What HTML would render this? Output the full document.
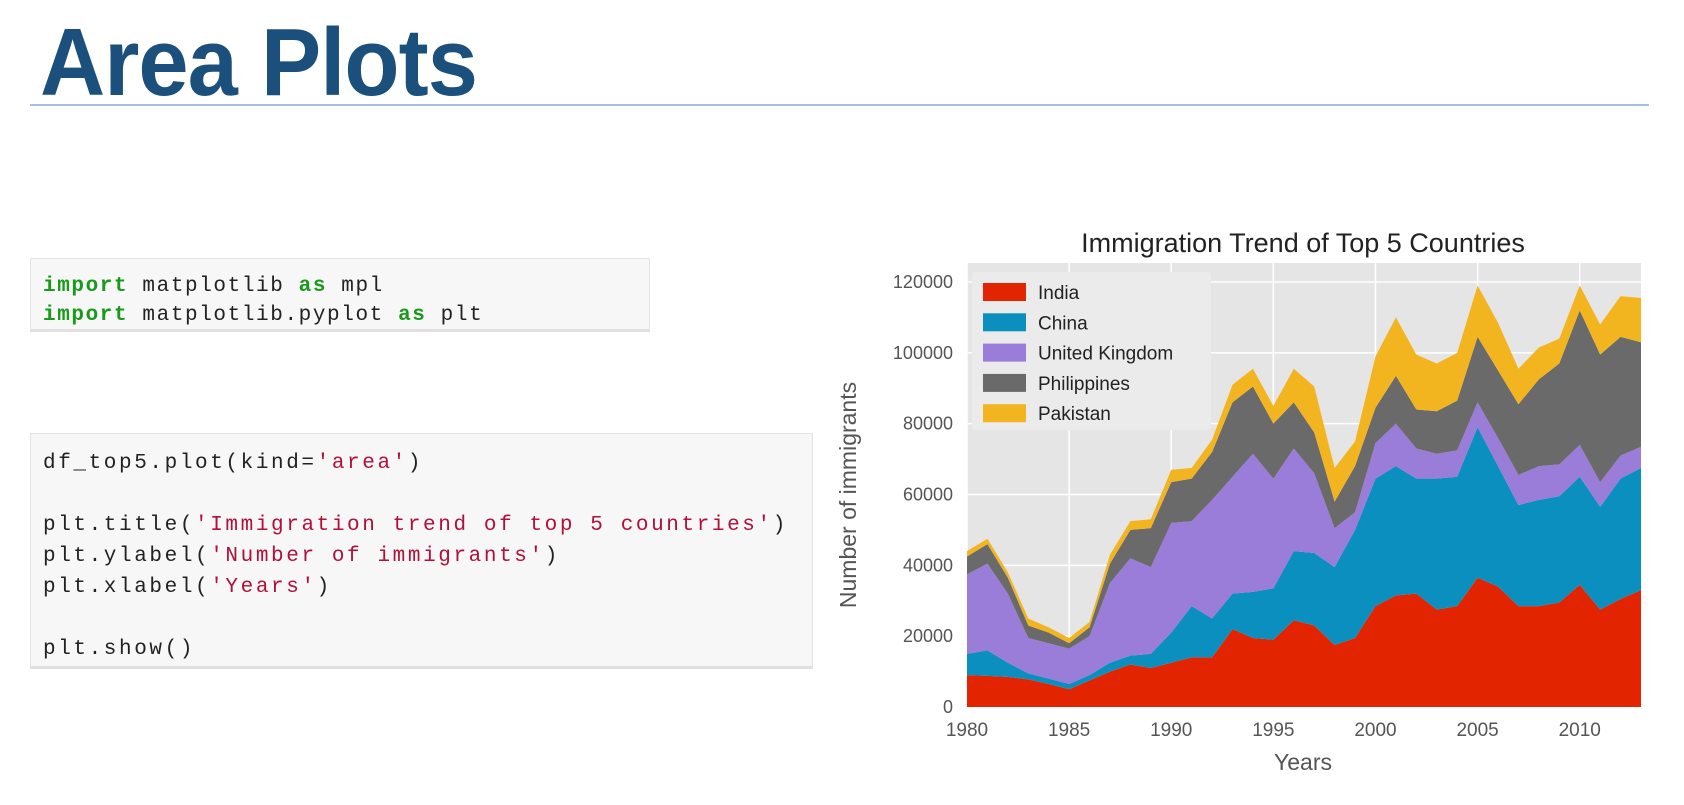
<!DOCTYPE html>
<html><head><meta charset="utf-8"><style>
body{margin:0;width:1684px;height:805px;background:#fff;position:relative;overflow:hidden;font-family:"Liberation Sans",sans-serif}
.h{position:absolute;left:40px;top:8px;font-size:96px;color:#1b4f7c;letter-spacing:-1px;font-weight:bold;transform:scaleX(0.94);transform-origin:left}
.rule{position:absolute;left:30px;top:104px;width:1619px;height:2px;background:#a9bedb}
.code{position:absolute;background:#f7f7f8;border:1px solid #e3e3e3;border-bottom:3px solid #e0e0e0;font-family:"Liberation Mono",monospace;font-size:21px;letter-spacing:2.6px;color:#222;white-space:pre;line-height:29px}
.k{color:#1a9a1a;font-weight:bold}.s{color:#b0103a}
</style></head><body>
<div class="h">Area Plots</div>
<div class="rule"></div>
<div class="code" style="left:30px;top:258px;width:620px;height:74px;padding:13px 0 0 12px;box-sizing:border-box;letter-spacing:1.6px"><span class="k">import</span> matplotlib <span class="k">as</span> mpl
<span class="k">import</span> matplotlib.pyplot <span class="k">as</span> plt</div>
<div class="code" style="left:30px;top:433px;width:783px;height:236px;padding:14px 0 0 12px;box-sizing:border-box;line-height:31px">df_top5.plot(kind=<span class="s">'area'</span>)

plt.title(<span class="s">'Immigration trend of top 5 countries'</span>)
plt.ylabel(<span class="s">'Number of immigrants'</span>)
plt.xlabel(<span class="s">'Years'</span>)

plt.show()</div>
<svg id="chart" width="1684" height="805" style="position:absolute;left:0;top:0"></svg>
<script>
const years=[1980,1981,1982,1983,1984,1985,1986,1987,1988,1989,1990,1991,1992,1993,1994,1995,1996,1997,1998,1999,2000,2001,2002,2003,2004,2005,2006,2007,2008,2009,2010,2011,2012,2013];
const india=[9000,8800,8500,7800,6500,5000,7500,10000,12000,11000,12500,14000,14000,22000,19500,19000,24500,23000,17500,19500,28500,31500,32000,27500,28500,36500,34000,28500,28500,29500,34500,27500,30500,33000];
const china=[6000,7200,4000,1700,1500,1500,1500,2500,2500,4000,8500,14500,11000,10000,13000,14500,19500,20500,22000,30500,36000,36500,32500,37000,36500,42500,34000,28500,30000,30000,30500,29000,34000,34500];
const uk=[22500,24500,19500,10000,10000,10000,11000,22500,27500,24500,31000,24000,33500,33000,39000,31000,29000,22500,11000,5000,10000,12000,8500,7000,7500,7000,8000,8500,9500,9000,9000,7000,6500,6000];
const philippines=[5000,5500,4500,3500,3000,1500,2500,5500,8000,11000,11500,12000,13500,21000,19000,15500,13000,11500,7500,13000,10000,13500,11000,12000,14000,18500,19000,20000,24500,28500,38000,36000,33500,29500];
const pakistan=[1500,1500,1500,2000,1500,1500,1500,2500,2500,2500,3500,3000,3500,5000,5000,5000,9500,13000,9500,7000,14500,16500,15500,13500,13500,14500,13500,10000,9000,7000,7000,8500,11500,12500];
const seriesNames=['India','China','United Kingdom','Philippines','Pakistan'];
const yTicks=[0,20000,40000,60000,80000,100000,120000];
const xTicks=[1980,1985,1990,1995,2000,2005,2010];
const colors=['#e22400','#0a8fbf','#9a7cd9','#6a6a6a','#f2b520'];
const series=[india,china,uk,philippines,pakistan];
const L=967,R=1641,T=263,B=707;
const x=v=>L+(v-years[0])/(years[years.length-1]-years[0])*(R-L);
const y=v=>B-v/120000*(B-282);
const svg=document.getElementById('chart');const NS='http://www.w3.org/2000/svg';
function mk(t,a,p){const e=document.createElementNS(NS,t);for(const k in a)e.setAttribute(k,a[k]);(p||svg).appendChild(e);return e;}
const bg=mk('rect',{x:L,y:T,width:R-L,height:B-T,fill:'#e5e5e5'});


yTicks.forEach(v=>{const g=mk('line',{x1:L,x2:R,y1:y(v),y2:y(v),stroke:'#fff','stroke-width':1.5});


const t=mk('text',{x:L-14,y:y(v)+6,'text-anchor':'end','font-size':18,fill:'#555','font-family':'Liberation Sans Narrow, Liberation Sans, sans-serif'});t.textContent=v;

});
xTicks.forEach(v=>{const g=mk('line',{x1:x(v),x2:x(v),y1:T,y2:B,stroke:'#fff','stroke-width':1.5});


const t=mk('text',{x:x(v),y:736,'text-anchor':'middle','font-size':19,fill:'#555','font-family':'Liberation Sans Narrow, Liberation Sans, sans-serif'});t.textContent=v;

});
let base=years.map(()=>0);
series.forEach((s,i)=>{const top=base.map((b,j)=>b+s[j]);
let d='M'+years.map((yr,j)=>x(yr)+','+y(top[j])).join('L');
for(let j=years.length-1;j>=0;j--)d+='L'+x(years[j])+','+y(base[j]);
const p=mk('path',{d:d+'Z',fill:colors[i]});


base=top;});
const lg=mk('rect',{x:972,y:272,width:239,height:158,fill:'#ebebeb',rx:3});


seriesNames.forEach((n,i)=>{const yy=292+i*30.3;
const r=mk('rect',{x:983,y:yy-9,width:43,height:18,fill:colors[i]});


const t=mk('text',{x:1038,y:yy+7,'font-size':19,fill:'#222','font-family':'Liberation Sans Narrow, Liberation Sans, sans-serif'});t.textContent=n;

});
const tt=mk('text',{x:1303,y:252,'text-anchor':'middle','font-size':27,fill:'#222'});tt.textContent='Immigration Trend of Top 5 Countries';


const xl=mk('text',{x:1303,y:770,'text-anchor':'middle','font-size':23,fill:'#555'});xl.textContent='Years';


const yl=mk('text',{x:0,y:0,'text-anchor':'middle','font-size':23,fill:'#555',transform:'translate(856,495) rotate(-90)'});yl.textContent='Number of immigrants';


</script>
</body></html>
